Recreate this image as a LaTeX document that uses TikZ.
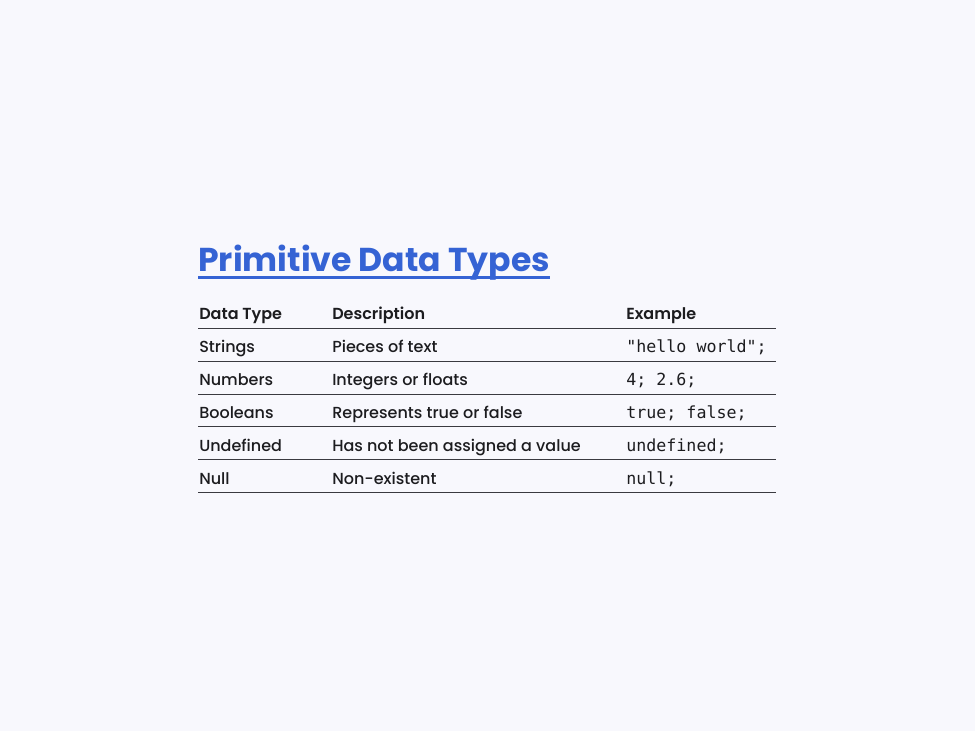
\documentclass[tikz,border=0pt]{standalone}
\usepackage{fontspec}
\setmainfont{Poppins}[UprightFont=* Medium, BoldFont=* SemiBold]
\newfontfamily\titlefont{Poppins}[UprightFont=* Bold]
\setmonofont{DejaVu Sans Mono}
\definecolor{bg}{HTML}{F8F8FD}
\definecolor{titleblue}{HTML}{3563D4}
\definecolor{ink}{HTML}{1C1C1F}
\definecolor{rulec}{HTML}{3A3A40}
\begin{document}
\begin{tikzpicture}[x=0.75pt,y=-0.75pt,
  cell/.style={anchor=base west, inner sep=0pt, text=ink, font=\fontsize{12}{14}\selectfont},
  head/.style={cell, font=\fontsize{12}{14}\selectfont\bfseries},
  code/.style={anchor=base west, inner sep=0pt, text=ink, font=\ttfamily\fontsize{12.5}{14}\selectfont},
  rowrule/.style={draw=rulec, line width=0.75pt}]
\fill[bg] (0,0) rectangle (975,731);
\useasboundingbox (0,0) rectangle (975,731);
\node[anchor=base west, inner sep=0pt, text=titleblue, font=\titlefont\fontsize{24.8}{28}\selectfont] (title) at (198,272) {Primitive Data Types};
\draw[titleblue, line width=1.6pt] (title.base west |- 0,277.5) -- (title.base east |- 0,277.5);
% header
\node[head] (h1) at (199,319) {Data Type};
\node[head] (h2) at (332,319) {Description};
\node[head] (h3) at (626,319) {Example};
\coordinate (l0a) at (198,328.3); \coordinate (l0b) at (776,328.3);
\draw[rowrule] (l0a) -- (l0b);
% rows
\node[cell] (r1a) at (199,352) {Strings};
\node[cell] (r1b) at (332,352) {Pieces of text};
\node[code] (r1c) at (626,352) {"hello world";};
\coordinate (l1a) at (198,361); \coordinate (l1b) at (776,361);
\draw[rowrule] (l1a) -- (l1b);
\node[cell] (r2a) at (199,385) {Numbers};
\node[cell] (r2b) at (332,385) {Integers or floats};
\node[code] (r2c) at (626,385) {4; 2.6;};
\coordinate (l2a) at (198,394); \coordinate (l2b) at (776,394);
\draw[rowrule] (l2a) -- (l2b);
\node[cell] (r3a) at (199,418) {Booleans};
\node[cell] (r3b) at (332,418) {Represents true or false};
\node[code] (r3c) at (626,418) {true; false;};
\coordinate (l3a) at (198,426.7); \coordinate (l3b) at (776,426.7);
\draw[rowrule] (l3a) -- (l3b);
\node[cell] (r4a) at (199,451) {Undefined};
\node[cell] (r4b) at (332,451) {Has not been assigned a value};
\node[code] (r4c) at (626,451) {undefined;};
\coordinate (l4a) at (198,459.7); \coordinate (l4b) at (776,459.7);
\draw[rowrule] (l4a) -- (l4b);
\node[cell] (r5a) at (199,484) {Null};
\node[cell] (r5b) at (332,484) {Non-existent};
\node[code] (r5c) at (626,484) {null;};
\coordinate (l5a) at (198,492.3); \coordinate (l5b) at (776,492.3);
\draw[rowrule] (l5a) -- (l5b);
\end{tikzpicture}
\end{document}
